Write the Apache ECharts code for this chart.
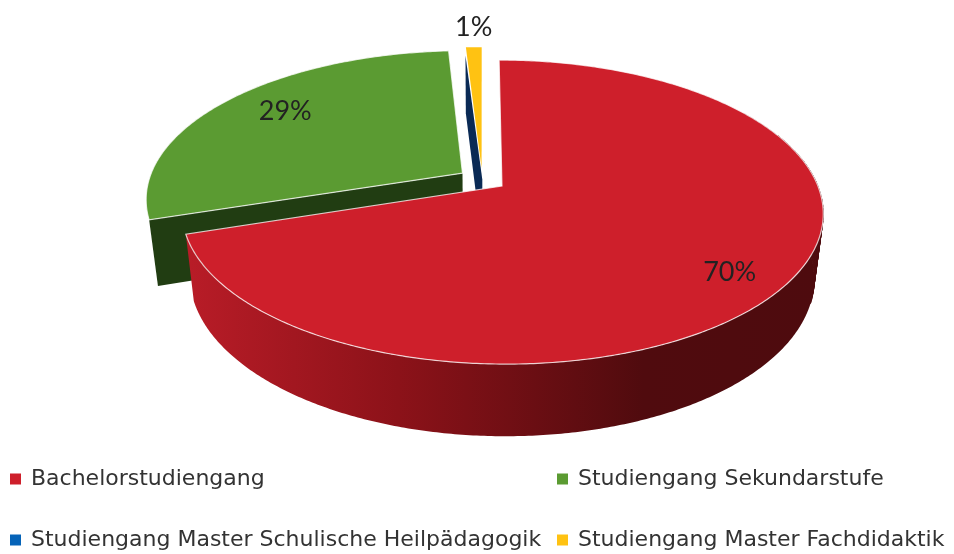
<!DOCTYPE html>
<html>
<head>
<meta charset="utf-8">
<style>
  html, body { margin: 0; background: #fff; }
  #chart { width: 954px; height: 554px; }
</style>
</head>
<body>
<div id="chart"></div>
<script src="https://cdn.jsdelivr.net/npm/echarts@6/dist/echarts.min.js"></script>
<script>
var categories = ['Bachelorstudiengang', 'Studiengang Sekundarstufe', 'Studiengang Master Schulische Heilpädagogik', 'Studiengang Master Fachdidaktik']
var values = [70, 29, 0.05, 0.95]
var colors = ['#ce1f2b', '#5b9b32', '#0563b8', '#ffc212']

// perspective pie
var cx = 482.3
var cy = 179.4
var radiusX = 313.5
var radiusY = 145.3
var depth = 66
var tilt = 0.17 // back of the pie is smaller than the front
var shrink = 0.026 // bottom face is a bit smaller than the top face
var explode = [0.077, 0.077, 0, 0.077]
var total = values.reduce(function(a, b) { return a + b }, 0)

function project(u, v, z) {
  var w = 1 - tilt * v + shrink * z
  return [cx + radiusX * u / w, cy + (radiusY * v + depth * z) / w]
}

// angle in radians, clockwise from 12 o'clock
function sliceInfo(i) {
  var before = 0
  for (var k = 0; k < i; k++) before += values[k]
  var start = before / total * Math.PI * 2
  var end = (before + values[i]) / total * Math.PI * 2
  var mid = (start + end) / 2
  return {
    start: start,
    end: end,
    mid: mid,
    du: explode[i] * Math.sin(mid),
    dv: -explode[i] * Math.cos(mid)
  }
}

function rimPoint(s, angle, r, z) {
  return project(s.du + r * Math.sin(angle), s.dv - r * Math.cos(angle), z)
}

function rim(s, from, to, z) {
  var pts = []
  var n = Math.max(2, Math.ceil(Math.abs(to - from) / 0.01))
  for (var k = 0; k <= n; k++) {
    pts.push(rimPoint(s, from + (to - from) * k / n, 1, z))
  }
  return pts
}

function poly(points, fill, stroke) {
  return {
    type: 'polygon',
    shape: { points: points },
    style: { fill: fill, stroke: stroke || null, lineWidth: stroke ? 1.2 : 0 }
  }
}

function topFace(s, fill, edge) {
  return poly([rimPoint(s, 0, 0, 0)].concat(rim(s, s.start, s.end, 0)), fill, edge)
}

// cut face on the start side of a slice
function cutFace(s, fill) {
  return poly([
    rimPoint(s, s.start, 0, 0), rimPoint(s, s.start, 1, 0),
    rimPoint(s, s.start, 1, 1), rimPoint(s, s.start, 0, 1)
  ], fill)
}

var wallGradient = new echarts.graphic.LinearGradient(190, 0, 820, 0, [
  { offset: 0, color: '#b81c27' },
  { offset: 0.33, color: '#8c1219' },
  { offset: 0.72, color: '#500b0e' },
  { offset: 1, color: '#4e0b0e' }
], true)

// small facets fill the notch the outline leaves at the right tangent
function wallFacets(s, from, to) {
  var out = []
  for (var a = from; a < to; a += 0.02) {
    var b = Math.min(a + 0.02, to)
    out.push({
      type: 'polygon',
      shape: { points: [rimPoint(s, a, 1, 0), rimPoint(s, b, 1, 0), rimPoint(s, b, 1, 1), rimPoint(s, a, 1, 1)] },
      style: { fill: wallGradient, stroke: wallGradient, lineWidth: 1 }
    })
  }
  return out
}

var rimEdge = 'rgba(255,255,255,0.75)'
var labelPlace = [[0.84, 129.4], [0.777, 307.1], null, [1.2, 358.5]] // radius factor, degrees

function labelFor(i, s) {
  var text = Math.round(values[i] / total * 100)
  if (!labelPlace[i] || text < 1) return []
  var a = labelPlace[i][1] * Math.PI / 180
  var p = rimPoint(s, a, labelPlace[i][0], 0)
  return [{
    type: 'text',
    style: {
      x: p[0],
      y: p[1],
      text: text + '%',
      fill: '#222',
      font: '27px Lato, "Open Sans", sans-serif',
      align: 'center',
      verticalAlign: 'middle'
    }
  }]
}

function renderSlice(i) {
  return function() {
    var s = sliceInfo(i)
    var children = []
    if (i === 0) {
      children.push(poly(rim(s, 1, s.end, 0).concat(rim(s, s.end, 1, 1)), wallGradient))
      children = children.concat(wallFacets(s, 1.2, 1.9))
      children.push(topFace(s, colors[i], rimEdge))
    } else if (i === 1) {
      children.push(cutFace(s, '#213d12'))
      children.push(topFace(s, colors[i], rimEdge))
    } else if (i === 2) {
      children.push(cutFace(s, '#0a2a55'))
    } else {
      children.push(topFace(s, colors[i]))
    }
    return { type: 'group', children: children.concat(labelFor(i, s)) }
  }
}

// red on top of everything, like in the picture
var zOrder = [5, 3, 1, 2]

var legendSpots = [
  { left: 10, top: 468 },
  { left: 557, top: 468 },
  { left: 10, top: 529 },
  { left: 557, top: 529 }
]

var chart = echarts.init(document.getElementById('chart'))
chart.setOption({
  backgroundColor: '#fff',
  animation: false,
  legend: categories.map(function(name, i) {
    return {
      data: [name],
      left: legendSpots[i].left,
      top: legendSpots[i].top,
      icon: 'rect',
      itemWidth: 11,
      itemHeight: 11,
      selectedMode: false,
      padding: 0,
      textStyle: {
        fontFamily: '"DejaVu Sans", sans-serif',
        fontSize: 22,
        color: '#333',
        padding: [0, 0, 0, 5]
      }
    }
  }),
  series: categories.map(function(name, i) {
    return {
      name: name,
      type: 'custom',
      coordinateSystem: 'none',
      z: zOrder[i],
      itemStyle: { color: colors[i] },
      renderItem: renderSlice(i),
      data: [[values[i]]]
    }
  })
})
</script>
</body>
</html>
